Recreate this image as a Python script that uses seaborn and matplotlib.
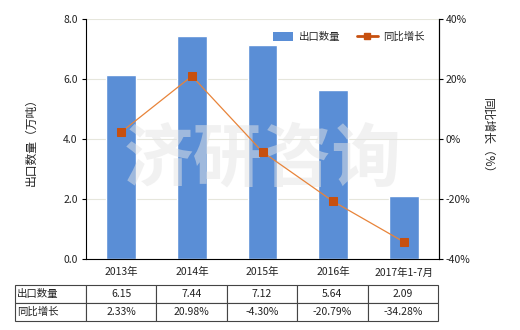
import matplotlib
matplotlib.use("Agg")
import matplotlib.pyplot as plt
import seaborn as sns
import pandas as pd
import numpy as np
from matplotlib.lines import Line2D
from matplotlib.patches import Patch

categories = ["2013年", "2014年", "2015年", "2016年", "2017年1-7月"]
export_qty = [6.15, 7.44, 7.12, 5.64, 2.09]
yoy_growth = [2.33, 20.98, -4.30, -20.79, -34.28]
qty_labels = ["6.15", "7.44", "7.12", "5.64", "2.09"]
growth_labels = ["2.33%", "20.98%", "-4.30%", "-20.79%", "-34.28%"]
left_ticks = [0, 2, 4, 6, 8]
right_ticks = [-40, -20, 0, 20, 40]

sns.set_style("white")
plt.rcParams['font.family'] = ['Noto Sans CJK SC', 'DejaVu Sans']
plt.rcParams['axes.unicode_minus'] = False

BAR = "#5A8ED6"
LINE = "#E8843A"
MARK = "#C7500F"
TXT = "#222222"

df = pd.DataFrame({"cat": categories, "qty": export_qty, "yoy": yoy_growth})

fig = plt.figure(figsize=(5.2, 3.3), dpi=100)
ax = fig.add_axes([86/520, 1-259/330, (439-86)/520, 240/330])

sns.barplot(data=df, x="cat", y="qty", ax=ax, color=BAR, width=0.42,
            saturation=1, zorder=2)
ax.set_ylim(0, 8)
ax.set_xlim(-0.5, 4.5)
ax.set_yticks(left_ticks)
ax.set_yticklabels([f"{v:.1f}" for v in left_ticks], fontsize=7.5, color=TXT)
ax.set_xticks(range(len(categories)))
ax.set_xticklabels(categories, fontsize=7.5, color=TXT)
ax.set_xlabel("")
ax.set_ylabel("出口数量（万吨）", fontsize=8.5, color=TXT)
ax.yaxis.set_label_coords((38-86)/353, 0.5)
ax.grid(axis="y", color="#E6E6DC", linewidth=0.8, zorder=0)
ax.set_axisbelow(True)
ax.spines["top"].set_visible(False)
for s in ["left", "bottom", "right"]:
    ax.spines[s].set_color("black")
    ax.spines[s].set_linewidth(0.8)
ax.tick_params(axis="both", length=3, width=0.8, color="black", pad=3)

ax2 = ax.twinx()
ax2.set_position(ax.get_position())
sns.lineplot(x=list(range(len(categories))), y=yoy_growth, ax=ax2, color=LINE,
             linewidth=0.9, marker="s", markersize=5.5, markerfacecolor=MARK,
             markeredgecolor=MARK, zorder=3)
ax2.set_ylim(-40, 40)
ax2.set_yticks(right_ticks)
ax2.set_yticklabels([f"{v}%" for v in right_ticks], fontsize=7.5, color=TXT)
ax2.set_ylabel("同比增长（%）", fontsize=8.5, color=TXT, rotation=270)
ax2.yaxis.set_label_coords((494-86)/353, 0.5)
ax2.tick_params(axis="y", length=3, width=0.8, color="black", pad=2)
for s in ["top", "left", "bottom"]:
    ax2.spines[s].set_visible(False)
ax2.spines["right"].set_color("black")
ax2.spines["right"].set_linewidth(0.8)
ax2.grid(False)

# watermark
ax.text(0.5, 0.41, "济研咨询", transform=ax.transAxes, ha="center", va="center",
        fontsize=50, color="#E4E4E4", alpha=0.5, fontweight="bold", zorder=4)

handles = [Patch(facecolor=BAR, edgecolor="none"),
           Line2D([0], [0], color=MARK, linewidth=2, marker="s",
                  markersize=4, markerfacecolor=MARK)]
ax2.legend(handles, ["出口数量", "同比增长"], loc="upper right",
           bbox_to_anchor=(0.985, 0.985), ncol=2, frameon=False, fontsize=7.5,
           handlelength=2.0, handleheight=0.9, columnspacing=1.6,
           handletextpad=0.5)

# data table
cell_text = [["出口数量"] + qty_labels, ["同比增长"] + growth_labels]
tbl = ax.table(cellText=cell_text, cellLoc="center",
               colWidths=[71] + [70.6] * 5,
               bbox=[(15-86)/353, (259-321)/240, (438-15)/353, 36/240])
tbl.auto_set_font_size(False)
tbl.set_fontsize(7.5)
for (r, c), cell in tbl.get_celld().items():
    cell.set_edgecolor("#444444")
    cell.set_linewidth(0.8)
    cell.get_text().set_color(TXT)
    if c == 0:
        cell.get_text().set_ha("left")
        cell._loc = "left"
        cell.PAD = 0.03

fig.savefig("out.png", dpi=100)
